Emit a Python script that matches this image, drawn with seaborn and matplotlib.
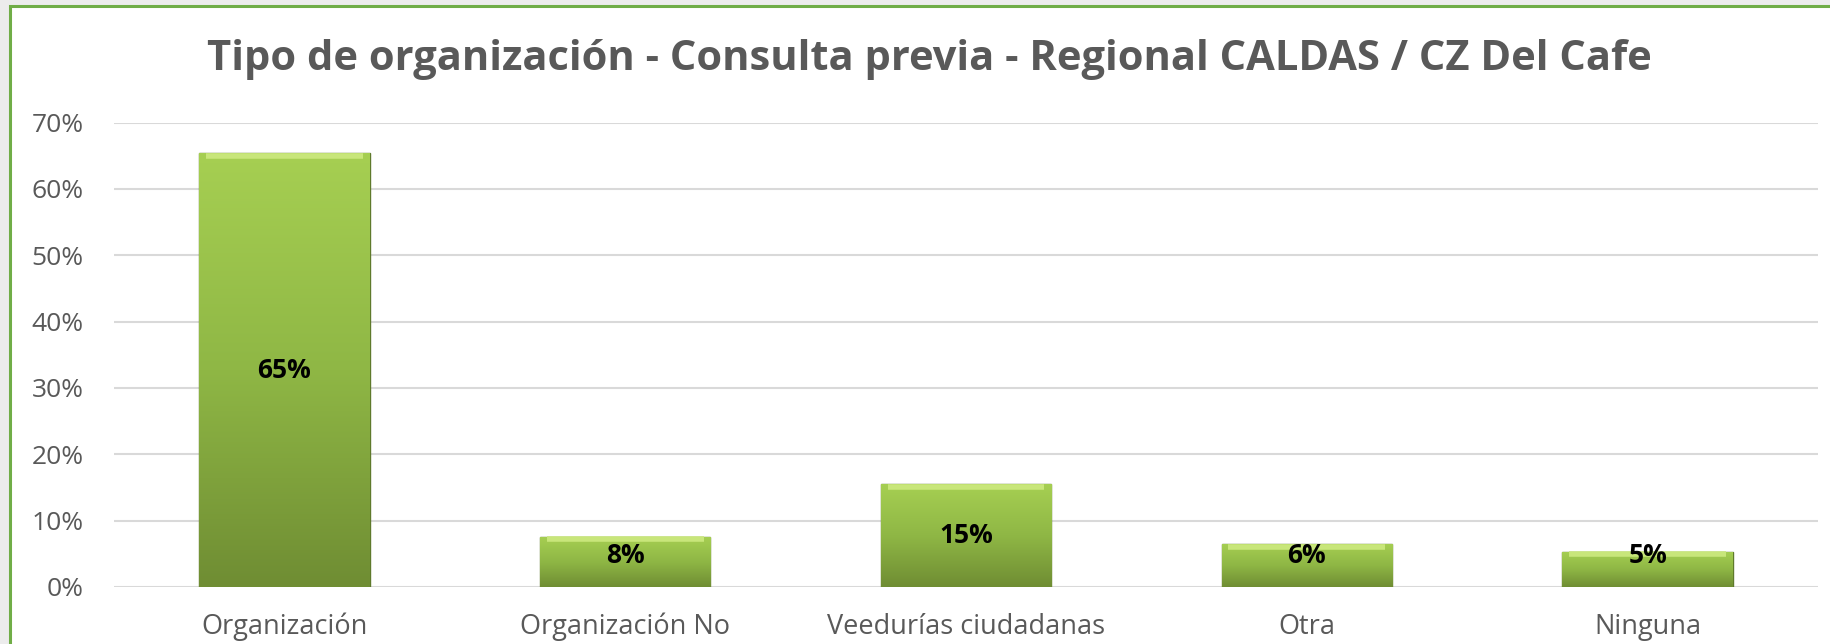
import numpy as np
import pandas as pd
import seaborn as sns
import matplotlib.pyplot as plt
from matplotlib.patches import Rectangle
from matplotlib.colors import LinearSegmentedColormap
from matplotlib.ticker import PercentFormatter

categorias = ['Organización', 'Organización No', 'Veedurías ciudadanas', 'Otra', 'Ninguna']
valores = [0.654, 0.076, 0.155, 0.065, 0.053]
etiquetas = ['65%', '8%', '15%', '6%', '5%']

titulo = 'Tipo de organización - Consulta previa - Regional CALDAS / CZ Del Cafe'

d = pd.DataFrame({'cat': categorias, 'val': valores})

sns.set_style('white')
plt.rcParams['font.family'] = ['Open Sans', 'DejaVu Sans']

fig = plt.figure(figsize=(18.3, 6.44), dpi=100)
fig.patch.set_facecolor('#ececec')
# white chart area with green frame
marco = Rectangle((10 / 1830, -0.02), 1.02, 1 - 6 / 644 + 0.02, transform=fig.transFigure,
                  facecolor='white', edgecolor='#70ad47', linewidth=2.2, zorder=-10)
fig.patches.append(marco)

ax = fig.add_axes([114 / 1830, 1 - 587 / 644, (1818 - 114) / 1830, (587 - 122.5) / 644])
ax.set_facecolor('none')

sns.barplot(data=d, x='cat', y='val', color='#8db442', width=0.5, ax=ax, zorder=3,
            edgecolor='#5f7a2c', linewidth=1.0)

# gradient fill like the excel bevel
cmap = LinearSegmentedColormap.from_list('verde', ['#6f8d33', '#8fb745', '#a6cf52'])
grad = np.linspace(0, 1, 256).reshape(-1, 1)
for p in ax.patches:
    x0, y0 = p.get_x(), p.get_y()
    w, h = p.get_width(), p.get_height()
    im = ax.imshow(grad, cmap=cmap, origin='lower', aspect='auto',
                   extent=[x0, x0 + w, y0, y0 + h], zorder=3.5)
    im.set_clip_path(p)
    # light top edge
    ax.plot([x0 + w * 0.04, x0 + w * 0.96], [h - 0.004, h - 0.004], color='#c8e67a', lw=4,
            zorder=3.6, solid_capstyle='butt')

for i, (v, t) in enumerate(zip(valores, etiquetas)):
    ax.text(i, max(v / 2, 0.047), t, ha='center', va='center', fontsize=19,
            fontweight='bold', color='black', zorder=5)

ax.set_xlim(-0.5, len(categorias) - 0.5)
ax.set_ylim(0, 0.7)
ax.set_yticks(np.arange(0, 0.71, 0.1))
ax.yaxis.set_major_formatter(PercentFormatter(1.0, decimals=0))
ax.grid(axis='y', color='#d9d9d9', linewidth=1.5, zorder=0)
ax.set_axisbelow(True)
sns.despine(ax=ax, left=True, bottom=True, top=True, right=True)
ax.tick_params(axis='y', length=0, pad=22, labelsize=19, labelcolor='#595959')
ax.tick_params(axis='x', length=0, pad=18.5, labelsize=19.5, labelcolor='#595959')
ax.set_xlabel('')
ax.set_ylabel('')

fig.text(0.508, 1 - 60 / 644, titulo, ha='center', va='center', fontsize=30,
         fontweight='bold', color='#595959')

fig.savefig('out.png', dpi=100)
